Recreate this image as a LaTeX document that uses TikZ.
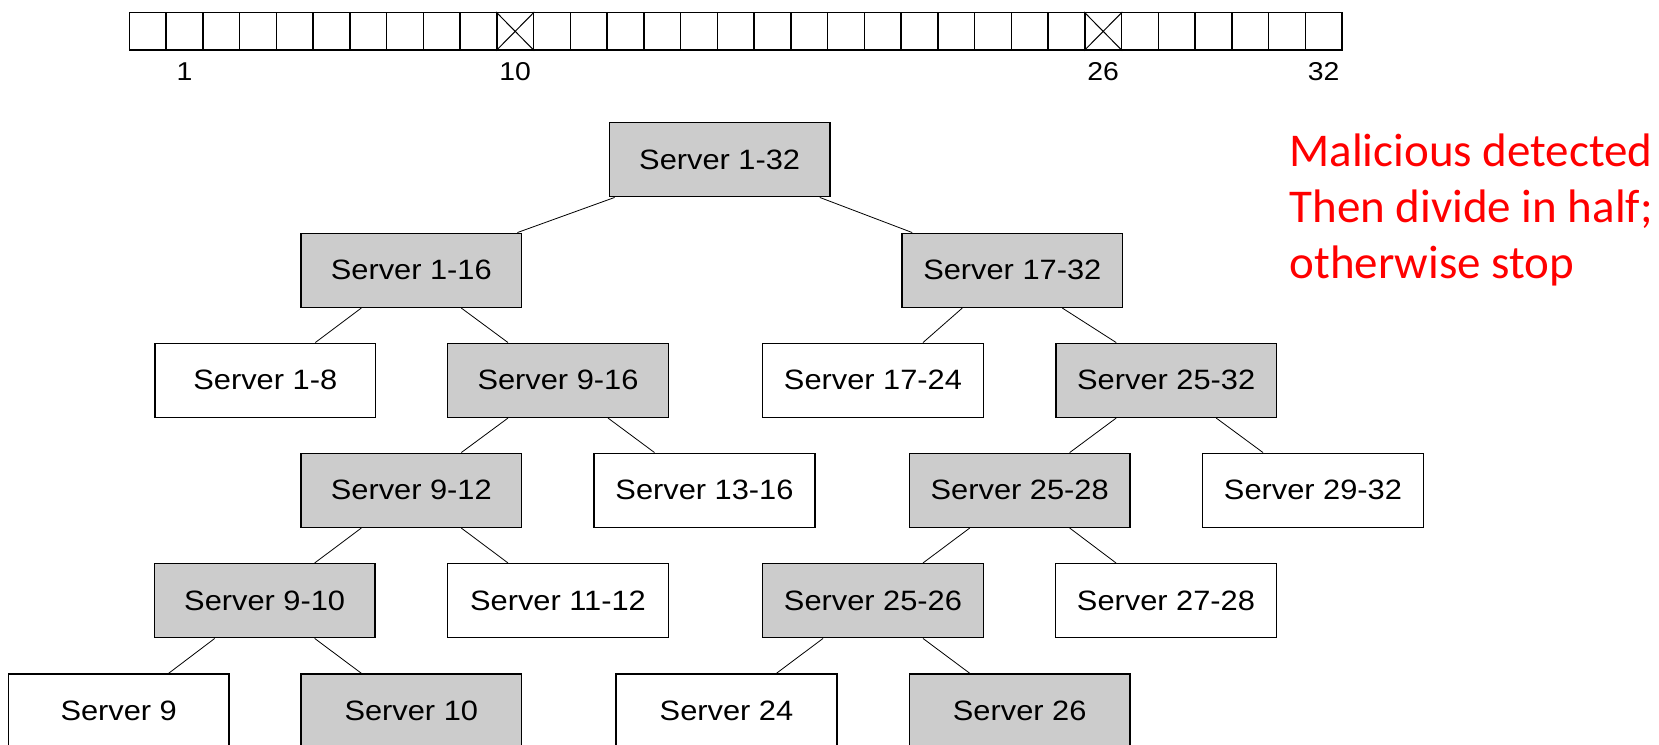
\documentclass[tikz,border=0pt]{standalone}
\usepackage{fontspec}
\setmainfont{Liberation Sans}[FakeStretch=1.1]
\newfontfamily\redfont{Carlito}
\definecolor{boxgray}{HTML}{CCCCCC}
\definecolor{alertred}{HTML}{FF0000}
\tikzset{
  srv/.style={draw=black, line width=1.5pt, rectangle, minimum width=220.7pt, minimum height=74pt, inner sep=0pt, font=\fontsize{28}{33}\selectfont},
  hot/.style={srv, fill=boxgray},
  cold/.style={srv, fill=white},
  cellbox/.style={draw=black, line width=1.5pt, rectangle, minimum width=36.75pt, minimum height=37.3pt, inner sep=0pt},
  barlabel/.style={anchor=base, inner sep=0pt, font=\fontsize{25.8}{30}\selectfont},
  conn/.style={draw=black, line width=0.8pt},
  xmark/.style={draw=black, line width=1pt},
  note/.style={anchor=base west, inner sep=0pt, text=alertred, font=\redfont\fontsize{47}{56}\selectfont}
}
\begin{document}
\begin{tikzpicture}[x=1pt,y=-1pt]
\useasboundingbox[fill=white] (0,0) rectangle (1659,744);
% bar of cells
\foreach \i in {0,...,32}{
  \node[cellbox] (c\i) at ({129.3+(\i+0.5)*36.75},31.35) {};
}
\draw[xmark] (c10.north west) -- (c10.south east) (c10.north east) -- (c10.south west);
\draw[xmark] (c26.north west) -- (c26.south east) (c26.north east) -- (c26.south west);
\node[barlabel] (l1) at ([yshift=-30pt]c1.south) {1};
\node[barlabel] (l10) at ([yshift=-30pt]c10.south) {10};
\node[barlabel] (l26) at ([yshift=-30pt]c26.south) {26};
\node[barlabel] (l32) at ([yshift=-30pt]c32.south) {32};
% tree
\node[hot] (root) at (719.7,159.7) {Server 1-32};
\node[hot] (a1to16) at (411.3,270.3) {Server 1-16};
\node[hot] (a17to32) at (1012.3,270.3) {Server 17-32};
\node[cold] (a1to8) at (265.3,380.3) {Server 1-8};
\node[hot] (a9to16) at (558,380.3) {Server 9-16};
\node[cold] (a17to24) at (873,380.3) {Server 17-24};
\node[hot] (a25to32) at (1166.2,380.3) {Server 25-32};
\node[hot] (a9to12) at (411.3,490.3) {Server 9-12};
\node[cold] (a13to16) at (704.5,490.3) {Server 13-16};
\node[hot] (a25to28) at (1019.7,490.3) {Server 25-28};
\node[cold] (a29to32) at (1313,490.3) {Server 29-32};
\node[hot] (a9to10) at (264.7,600.7) {Server 9-10};
\node[cold] (a11to12) at (558,600.7) {Server 11-12};
\node[hot] (a25to26) at (873,600.7) {Server 25-26};
\node[cold] (a27to28) at (1166,600.7) {Server 27-28};
\node[cold] (a9) at (118.7,711) {Server 9};
\node[hot] (a10) at (411.3,711) {Server 10};
\node[cold] (a24) at (726.5,711) {Server 24};
\node[hot] (a26) at (1019.7,711) {Server 26};
% connectors
\draw[conn] ([xshift=6pt]root.south west) -- ([xshift=-5pt]a1to16.north east);
\draw[conn] ([xshift=-11pt]root.south east) -- ([xshift=11pt]a17to32.north west);
\foreach \p/\l/\r in {a1to16/a1to8/a9to16, a17to32/a17to24/a25to32, a9to16/a9to12/a13to16, a25to32/a25to28/a29to32, a9to12/a9to10/a11to12, a25to28/a25to26/a27to28, a9to10/a9/a10, a25to26/a24/a26}{
  \draw[conn] ([xshift=-50pt]\p.south) -- ([xshift=50pt]\l.north);
  \draw[conn] ([xshift=50pt]\p.south) -- ([xshift=-50pt]\r.north);
}
% note
\node[note] (n1) at (1289.3,166) {Malicious detected};
\node[note] (n2) at (1289.3,222) {Then divide in half;};
\node[note] (n3) at (1289.3,278) {otherwise stop};
\end{tikzpicture}
\end{document}
